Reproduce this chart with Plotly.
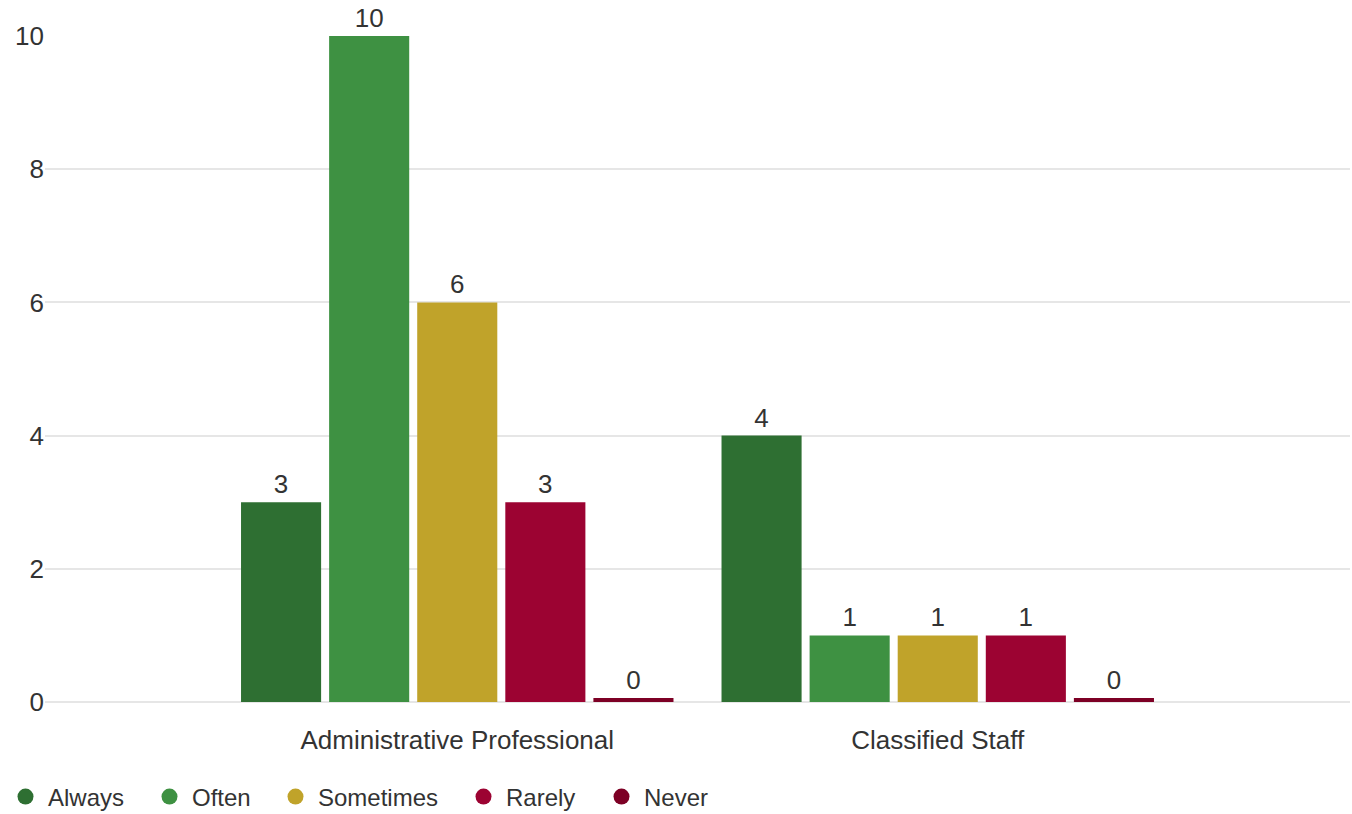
import plotly.graph_objects as go

categories = ["Administrative Professional", "Classified Staff"]
series_names = ["Always", "Often", "Sometimes", "Rarely", "Never"]
always = [3, 4]
often = [10, 1]
sometimes = [6, 1]
rarely = [3, 1]
never = [0, 0]
colors = ["#2e6f32", "#3e9142", "#c0a32a", "#9c0332", "#7d0025"]
y_ticks = [0, 2, 4, 6, 8, 10]

series_values = [always, often, sometimes, rarely, never]
FONT = "Liberation Sans, Arial, sans-serif"
TXT = "#333333"
MIN_VISIBLE = 0.06  # zero values drawn as a thin sliver, as in the reference

W, H = 1352, 814
ML, MR, MT, MB = 45, 2, 36, 112

# legend marker centre positions in pixels (layout)
legend_px = [23, 167, 293, 481, 619]
legend_names = ["legend", "legend2", "legend3", "legend4", "legend5"]

fig = go.Figure()
for name, vals, col, lg in zip(series_names, series_values, colors, legend_names):
    fig.add_trace(go.Bar(
        x=categories,
        y=[max(v, MIN_VISIBLE) for v in vals],
        name=name,
        marker=dict(color=col, line=dict(width=0)),
        text=[str(v) for v in vals],
        textposition="outside",
        textfont=dict(family=FONT, size=26, color=TXT),
        cliponaxis=False,
        showlegend=False,
        hoverinfo="skip",
    ))
    fig.add_trace(go.Scatter(
        x=[None], y=[None], mode="markers", name=name,
        marker=dict(symbol="circle", size=19, color=col),
        showlegend=True, legend=lg,
    ))

layout_legends = {}
for lg, px in zip(legend_names, legend_px):
    layout_legends[lg] = dict(
        orientation="h",
        xref="container", yref="container",
        x=(px - 20) / W, xanchor="left",
        y=1 - 797 / H, yanchor="middle",
        font=dict(family=FONT, size=24, color=TXT),
        itemsizing="trace", itemwidth=35,
        bgcolor="rgba(0,0,0,0)",
    )

fig.update_layout(
    width=W, height=H,
    margin=dict(l=ML, r=MR, t=MT, b=MB, autoexpand=False),
    paper_bgcolor="white", plot_bgcolor="white",
    barmode="group", bargap=0.0833, bargroupgap=0.0909,
    font=dict(family=FONT, size=26, color=TXT),
    xaxis=dict(
        type="category", range=[-0.858, 1.858],
        showgrid=False, zeroline=False, showline=False,
        ticks="outside", ticklen=15, tickcolor="rgba(0,0,0,0)",
        tickfont=dict(family=FONT, size=26, color=TXT),
    ),
    yaxis=dict(
        range=[0, 10], tickvals=y_ticks,
        showgrid=True, gridcolor="#e6e6e6", gridwidth=1.5,
        zeroline=True, zerolinecolor="#e6e6e6", zerolinewidth=1.5,
        showline=False, ticks="",
        tickfont=dict(family=FONT, size=26, color=TXT),
    ),
    **layout_legends,
)

fig.write_html(
    "out.html",
    config={"displayModeBar": False},
    post_script="document.body.style.margin='0';document.body.style.overflow='hidden';",
)
